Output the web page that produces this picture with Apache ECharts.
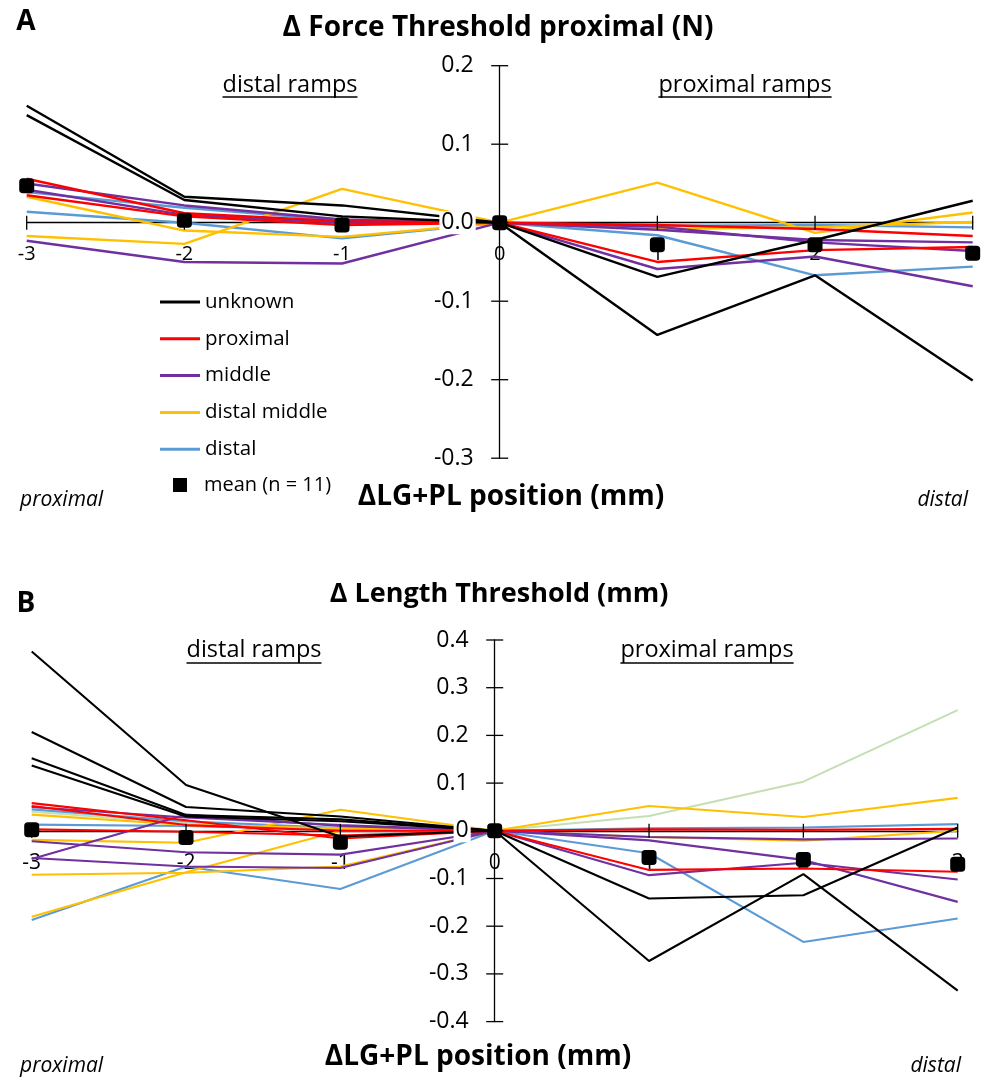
<!DOCTYPE html>
<html>
<head>
<meta charset="utf-8">
<script src="https://cdn.jsdelivr.net/npm/echarts@6/dist/echarts.min.js"></script>
<style>
  html, body { margin: 0; padding: 0; background: #fff; }
  #chart { width: 986px; height: 1081px; }
</style>
</head>
<body>
<div id="chart"></div>
<script>
// Positions along the LG+PL axis (mm)
const xDistalRamps = [-3, -2, -1, 0];
const xProximalRamps = [0, 1, 2, 3];
const xMean = [-3, -2, -1, 0, 1, 2, 3];

// ---- Panel A: change in force threshold (N) ----
const forceDistalUnknown = [[0.149, 0.033, 0.022, 0], [0.137, 0.029, 0.008, 0]];
const forceDistalProximal = [[0.056, 0.012, 0.002, 0], [0.035, 0.008, -0.003, 0]];
const forceDistalMiddle = [[0.050, 0.022, 0.004, 0], [0.042, 0.010, 0.000, 0], [-0.023, -0.050, -0.052, 0]];
const forceDistalDistalMiddle = [[0.033, -0.010, -0.018, 0], [-0.017, -0.027, 0.043, 0]];
const forceDistalDistal = [[0.039, 0.019, 0.003, 0], [0.014, 0.000, -0.020, 0]];
const forceProxUnknown = [[0, -0.069, -0.022, 0.028], [0, -0.143, -0.067, -0.201]];
const forceProxProximal = [[0, -0.050, -0.035, -0.031], [0, -0.003, -0.008, -0.017]];
const forceProxMiddle = [[0, -0.059, -0.043, -0.081], [0, -0.009, -0.022, -0.025], [0, -0.005, -0.025, -0.036]];
const forceProxDistalMiddle = [[0, 0.051, -0.013, 0.013], [0, -0.008, -0.006, 0.001]];
const forceProxDistal = [[0, -0.016, -0.067, -0.056], [0, -0.004, -0.003, -0.006]];
const forceMean = [0.047, 0.003, -0.003, 0, -0.028, -0.028, -0.039];

// ---- Panel B: change in length threshold (mm) ----
const lengthDistalUnknown = [[0.376, 0.096, -0.012, 0], [0.207, 0.050, 0.030, 0], [0.152, 0.033, 0.024, 0], [0.137, 0.030, 0.020, 0]];
const lengthDistalProximal = [[0.058, 0.022, -0.016, 0], [0.052, 0.012, 0.000, 0], [0.003, -0.002, -0.010, 0]];
const lengthDistalMiddle = [[0.050, 0.028, 0.012, 0], [-0.022, -0.045, -0.050, 0], [-0.059, 0.034, 0.010, 0], [-0.057, -0.075, -0.078, 0]];
const lengthDistalDistalMiddle = [[0.034, 0.012, 0.005, 0], [-0.019, -0.025, 0.044, 0], [-0.092, -0.088, -0.075, 0], [-0.180, -0.087, 0.000, 0]];
const lengthDistalDistal = [[-0.187, -0.075, -0.122, 0], [0.045, 0.020, 0.006, 0], [0.013, 0.010, 0.002, 0]];
const lengthDistalOther = [[0.040, 0.016, 0.004, 0]];
const lengthProxUnknown = [[0, -0.142, -0.135, 0.007], [0, -0.273, -0.091, -0.335]];
const lengthProxProximal = [[0, -0.082, -0.079, -0.086], [0, 0.003, 0.002, 0.004]];
const lengthProxMiddle = [[0, -0.020, -0.061, -0.149], [0, -0.013, -0.018, -0.016], [0, -0.093, -0.067, -0.102]];
const lengthProxDistalMiddle = [[0, 0.052, 0.029, 0.069], [0, -0.013, -0.021, 0.000]];
const lengthProxDistal = [[0, -0.047, -0.233, -0.184], [0, 0.005, 0.007, 0.014]];
const lengthProxOther = [[0, 0.031, 0.103, 0.253]];
const lengthMean = [0.002, -0.014, -0.024, 0, -0.056, -0.060, -0.070];

// Axis ticks
const xTicks = [-3, -2, -1, 0, 1, 2, 3];
const forceTicks = [-0.3, -0.2, -0.1, 0.0, 0.1, 0.2];
const lengthTicks = [-0.4, -0.3, -0.2, -0.1, 0, 0.1, 0.2, 0.3, 0.4];

const FONT = '"Open Sans", "Noto Sans", sans-serif';
const COLORS = {
  'unknown': '#000000',
  'proximal': '#ff0000',
  'middle': '#7030a0',
  'distal middle': '#ffc000',
  'distal': '#5b9bd5',
  'other': '#c5dfb4'
};

// plot areas of the two panels
const GRIDS = [
  { left: 26.7, top: 65.7, width: 946, height: 392.5 },
  { left: 31.7, top: 640, width: 926, height: 381.6 }
];

function lineSeries(rows, xs, name, gi, width) {
  return rows.map(r => ({
    type: 'line',
    name: name,
    xAxisIndex: gi,
    yAxisIndex: gi,
    data: r.map((v, i) => [xs[i], v]),
    symbol: 'none',
    showSymbol: false,
    lineStyle: { color: COLORS[name], width: width },
    itemStyle: { color: COLORS[name] },
    emphasis: { disabled: true },
    silent: true,
    z: 2
  }));
}

function meanSeries(values, gi) {
  return {
    type: 'scatter',
    name: 'mean (n = 11)',
    xAxisIndex: gi,
    yAxisIndex: gi,
    data: values.map((v, i) => [xMean[i], v]),
    symbol: 'roundRect',
    symbolSize: 15,
    itemStyle: { color: '#000000', opacity: 1 },
    emphasis: { disabled: true },
    silent: true,
    z: 20
  };
}

// short marks crossing the axis lines at every tick
function tickMarks(gi, yTicks) {
  return [
    { type: 'scatter', xAxisIndex: gi, yAxisIndex: gi, silent: true, z: 3,
      data: xTicks.map(x => [x, 0]), symbol: 'rect', symbolSize: [1.3, 14],
      itemStyle: { color: '#000', opacity: 1 }, emphasis: { disabled: true } },
    { type: 'scatter', xAxisIndex: gi, yAxisIndex: gi, silent: true, z: 3,
      data: yTicks.map(y => [0, y]), symbol: 'rect', symbolSize: [17, 1.3],
      itemStyle: { color: '#000', opacity: 1 }, emphasis: { disabled: true } }
  ];
}

const series = [].concat(
  tickMarks(0, forceTicks),
  lineSeries(forceDistalDistal, xDistalRamps, 'distal', 0, 2.4),
  lineSeries(forceDistalDistalMiddle, xDistalRamps, 'distal middle', 0, 2.4),
  lineSeries(forceDistalMiddle, xDistalRamps, 'middle', 0, 2.4),
  lineSeries(forceDistalProximal, xDistalRamps, 'proximal', 0, 2.4),
  lineSeries(forceDistalUnknown, xDistalRamps, 'unknown', 0, 2.4),
  lineSeries(forceProxDistal, xProximalRamps, 'distal', 0, 2.4),
  lineSeries(forceProxDistalMiddle, xProximalRamps, 'distal middle', 0, 2.4),
  lineSeries(forceProxMiddle, xProximalRamps, 'middle', 0, 2.4),
  lineSeries(forceProxProximal, xProximalRamps, 'proximal', 0, 2.4),
  lineSeries(forceProxUnknown, xProximalRamps, 'unknown', 0, 2.4),
  [meanSeries(forceMean, 0)],
  tickMarks(1, lengthTicks),
  lineSeries(lengthDistalOther, xDistalRamps, 'other', 1, 2.1),
  lineSeries(lengthDistalDistal, xDistalRamps, 'distal', 1, 2.1),
  lineSeries(lengthDistalDistalMiddle, xDistalRamps, 'distal middle', 1, 2.1),
  lineSeries(lengthDistalMiddle, xDistalRamps, 'middle', 1, 2.1),
  lineSeries(lengthDistalProximal, xDistalRamps, 'proximal', 1, 2.1),
  lineSeries(lengthDistalUnknown, xDistalRamps, 'unknown', 1, 2.1),
  lineSeries(lengthProxOther, xProximalRamps, 'other', 1, 2.1),
  lineSeries(lengthProxDistal, xProximalRamps, 'distal', 1, 2.1),
  lineSeries(lengthProxDistalMiddle, xProximalRamps, 'distal middle', 1, 2.1),
  lineSeries(lengthProxMiddle, xProximalRamps, 'middle', 1, 2.1),
  lineSeries(lengthProxProximal, xProximalRamps, 'proximal', 1, 2.1),
  lineSeries(lengthProxUnknown, xProximalRamps, 'unknown', 1, 2.1),
  [meanSeries(lengthMean, 1)]
);

const AXIS_LINE = { color: '#000000', width: 1.3 };

// Axes cross at the origin: each axis is shifted from the plot edge to the zero of the other axis.
function xAxis(gi, yTicks, labelSize) {
  const yMin = yTicks[0], yMax = yTicks[yTicks.length - 1];
  const shift = GRIDS[gi].height * (0 - yMin) / (yMax - yMin);
  return {
    type: 'value', gridIndex: gi, min: xTicks[0], max: xTicks[xTicks.length - 1], interval: 1,
    position: 'bottom', offset: -shift, splitLine: { show: false },
    axisLine: { show: true, onZero: false, lineStyle: AXIS_LINE },
    axisTick: { show: false },
    axisLabel: { show: true, margin: 22, fontSize: labelSize, fontFamily: FONT, color: '#000',
      formatter: v => String(Math.round(v)) }
  };
}

function yAxis(gi, ticks, fmt, labelSize) {
  const shift = GRIDS[gi].width * (0 - xTicks[0]) / (xTicks[xTicks.length - 1] - xTicks[0]);
  return {
    type: 'value', gridIndex: gi, min: ticks[0], max: ticks[ticks.length - 1], interval: 0.1,
    position: 'left', offset: -shift, splitLine: { show: false }, z: 10,
    axisLine: { show: true, onZero: false, lineStyle: AXIS_LINE },
    axisTick: { show: false },
    axisLabel: { show: true, margin: 24, fontSize: labelSize, fontFamily: FONT, color: '#000',
      backgroundColor: '#ffffff', padding: [0, 2], formatter: fmt }
  };
}

// text measuring for underlines
const measureCtx = document.createElement('canvas').getContext('2d');
function textWidth(text, font) { measureCtx.font = font; return measureCtx.measureText(text).width; }

function label(text, x, y, font, align) {
  return { type: 'text', x: x, y: y, z: 50,
    style: { text: text, font: font, fill: '#000', align: align || 'center', verticalAlign: 'middle' } };
}
function underlined(text, cx, cy, font, uy) {
  const w = textWidth(text, font);
  return [
    label(text, cx, cy, font),
    { type: 'line', z: 50, shape: { x1: cx - w / 2, y1: uy, x2: cx + w / 2, y2: uy },
      style: { stroke: '#000', lineWidth: 1.5 } }
  ];
}

const BOLD_TITLE = 'bold 28px ' + FONT;
const RAMP_FONT = '23.5px ' + FONT;
const SIDE_FONT = 'italic 21px ' + FONT;

const graphic = [].concat(
  [label('A', 26, 22, 'bold 28px ' + FONT)],
  [label('Δ Force Threshold proximal (N)', 498, 28, BOLD_TITLE)],
  underlined('distal ramps', 290, 85, RAMP_FONT, 97),
  underlined('proximal ramps', 745, 85, RAMP_FONT, 97),
  [label('ΔLG+PL position (mm)', 511, 497, BOLD_TITLE)],
  [label('proximal', 20, 500, SIDE_FONT, 'left')],
  [label('distal', 968, 500, SIDE_FONT, 'right')],
  [label('B', 26, 604, 'bold 28px ' + FONT)],
  [label('Δ Length Threshold (mm)', 499, 594, 'bold 27px ' + FONT)],
  underlined('distal ramps', 254, 650, RAMP_FONT, 663),
  underlined('proximal ramps', 707, 650, RAMP_FONT, 663),
  [label('ΔLG+PL position (mm)', 478, 1057, BOLD_TITLE)],
  [label('proximal', 20, 1066, SIDE_FONT, 'left')],
  [label('distal', 961, 1066, SIDE_FONT, 'right')]
);

const option = {
  animation: false,
  backgroundColor: '#ffffff',
  textStyle: { fontFamily: FONT },
  grid: GRIDS.map(g => Object.assign({ containLabel: false, outerBoundsMode: 'none' }, g)),
  xAxis: [xAxis(0, forceTicks, 20), xAxis(1, lengthTicks, 21)],
  yAxis: [
    yAxis(0, forceTicks, v => (Math.abs(v) < 1e-9 ? '0.0' : v.toFixed(1)), 23),
    yAxis(1, lengthTicks, v => (Math.abs(v) < 1e-9 ? '0' : v.toFixed(1)), 23)
  ],
  legend: [
    {
      orient: 'vertical', left: 160, top: 290, padding: 0, selectedMode: false,
      itemWidth: 40, itemHeight: 3, itemGap: 12.8,
      textStyle: { fontSize: 20.5, fontFamily: FONT, color: '#000', lineHeight: 24 },
      data: ['unknown', 'proximal', 'middle', 'distal middle', 'distal'].map(n => ({ name: n, icon: 'rect' }))
    },
    {
      orient: 'vertical', left: 173, top: 473, padding: 0, selectedMode: false,
      itemWidth: 14, itemHeight: 14,
      textStyle: { fontSize: 20, fontFamily: FONT, color: '#000', lineHeight: 24, padding: [0, 0, 0, 12] },
      data: [{ name: 'mean (n = 11)', icon: 'rect' }]
    }
  ],
  series: series,
  graphic: graphic
};

const chart = echarts.init(document.getElementById('chart'), null, { renderer: 'canvas' });
chart.setOption(option);
</script>
</body>
</html>
